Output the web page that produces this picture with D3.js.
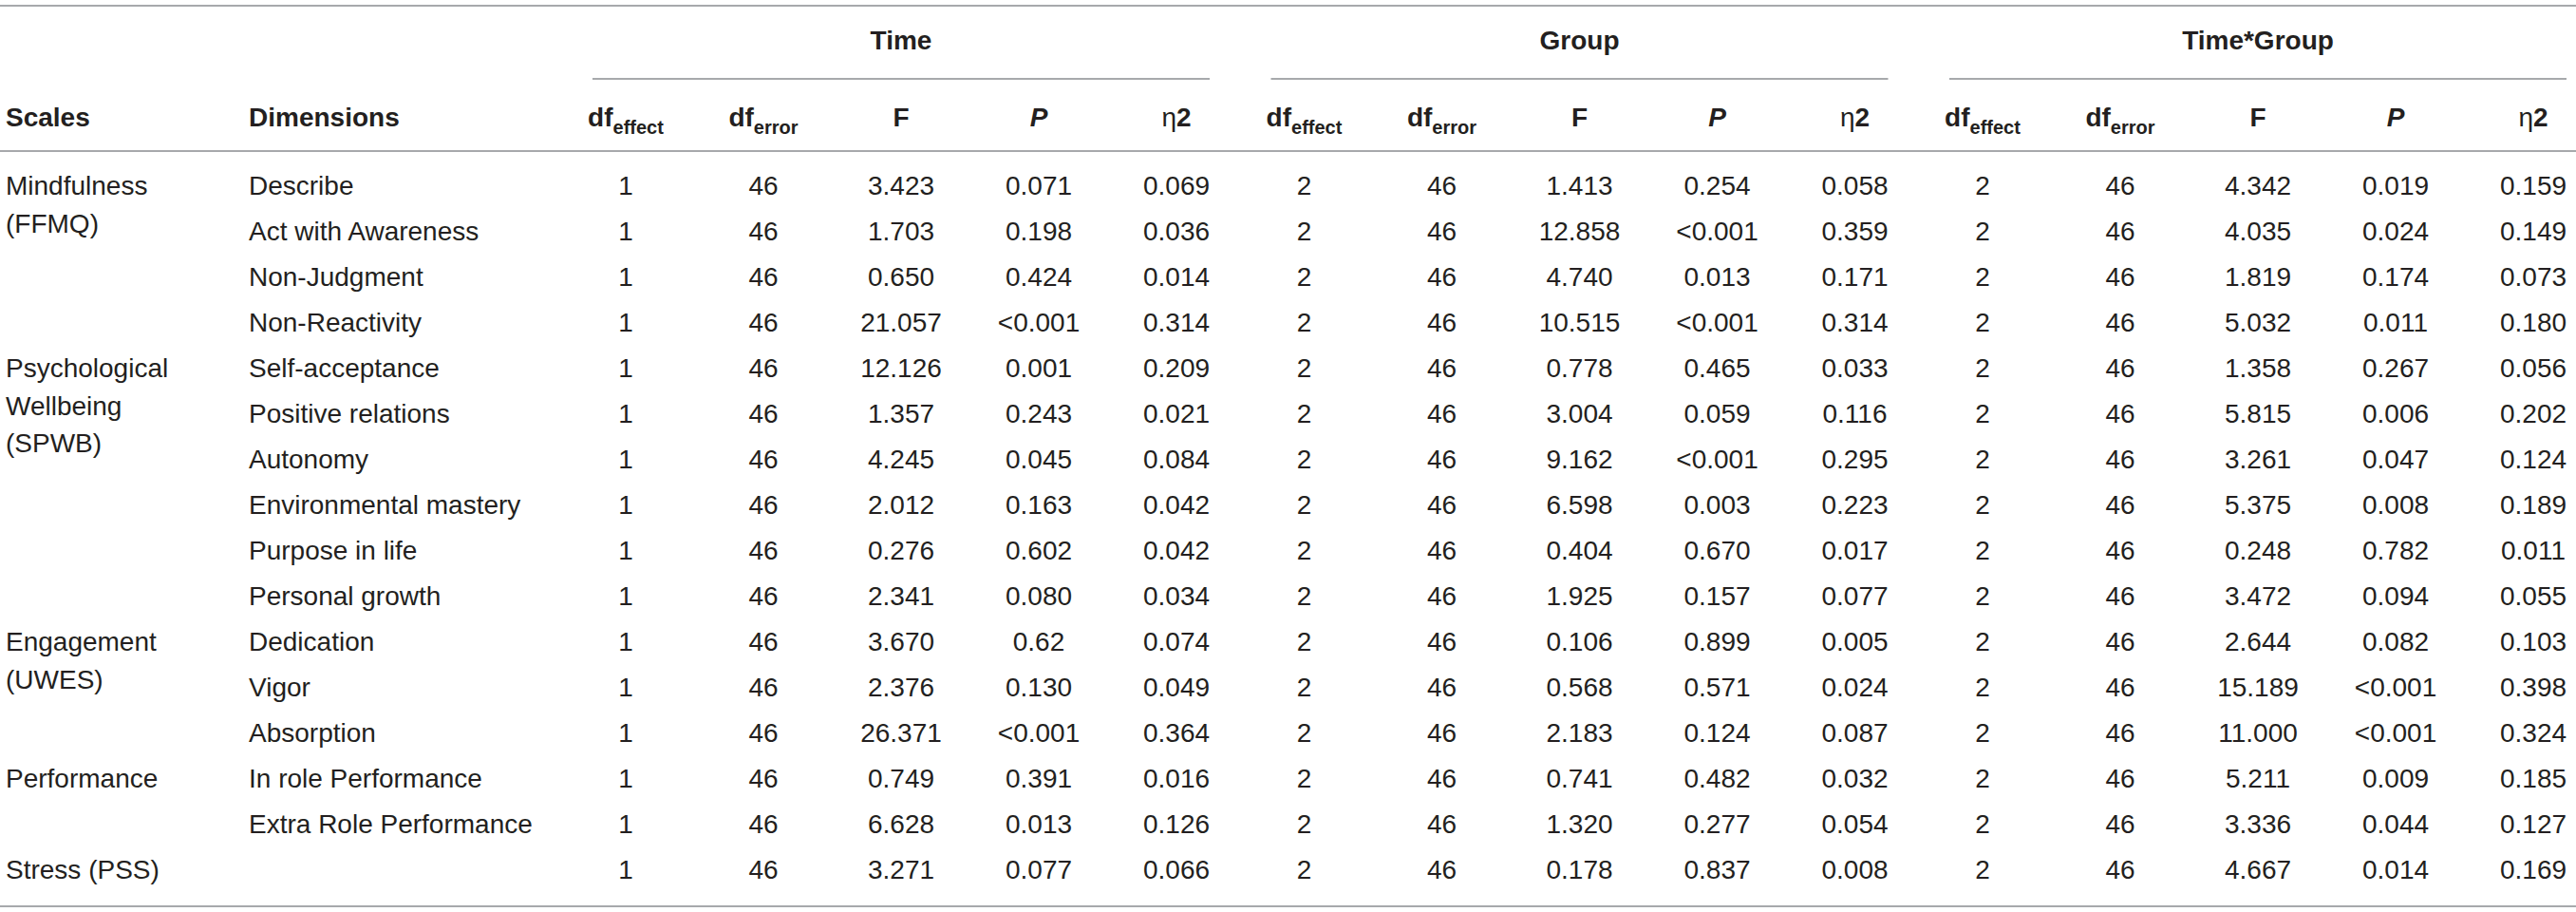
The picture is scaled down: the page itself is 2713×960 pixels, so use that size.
<!DOCTYPE html>
<html>
<head>
<meta charset="utf-8">
<script src="https://cdn.jsdelivr.net/npm/d3@7"></script>
<style>
  body { margin: 0; background: #fff; }
  text { font-family: "Liberation Sans", Arial, Helvetica, sans-serif; fill: #231f20; }
</style>
</head>
<body>
<script>
// table content
var scaleNames = [
    { row: 0, lines: ["Mindfulness", "(FFMQ)"] },
    { row: 4, lines: ["Psychological", "Wellbeing", "(SPWB)"] },
    { row: 10, lines: ["Engagement", "(UWES)"] },
    { row: 13, lines: ["Performance"] },
    { row: 15, lines: ["Stress (PSS)"] }
];
var dimensions = ["Describe", "Act with Awareness", "Non-Judgment", "Non-Reactivity",
    "Self-acceptance", "Positive relations", "Autonomy", "Environmental mastery",
    "Purpose in life", "Personal growth", "Dedication", "Vigor", "Absorption",
    "In role Performance", "Extra Role Performance", ""];
var effects = ["Time", "Group", "Time*Group"];
var columns = ["dfEffect", "dfError", "F", "P", "eta"];

var timeDfEffect = ["1", "1", "1", "1", "1", "1", "1", "1", "1", "1", "1", "1", "1", "1", "1", "1"];
var timeDfError = ["46", "46", "46", "46", "46", "46", "46", "46", "46", "46", "46", "46", "46", "46", "46", "46"];
var timeF = ["3.423", "1.703", "0.650", "21.057", "12.126", "1.357", "4.245", "2.012", "0.276", "2.341", "3.670", "2.376", "26.371", "0.749", "6.628", "3.271"];
var timeP = ["0.071", "0.198", "0.424", "<0.001", "0.001", "0.243", "0.045", "0.163", "0.602", "0.080", "0.62", "0.130", "<0.001", "0.391", "0.013", "0.077"];
var timeEta = ["0.069", "0.036", "0.014", "0.314", "0.209", "0.021", "0.084", "0.042", "0.042", "0.034", "0.074", "0.049", "0.364", "0.016", "0.126", "0.066"];

var groupDfEffect = ["2", "2", "2", "2", "2", "2", "2", "2", "2", "2", "2", "2", "2", "2", "2", "2"];
var groupDfError = ["46", "46", "46", "46", "46", "46", "46", "46", "46", "46", "46", "46", "46", "46", "46", "46"];
var groupF = ["1.413", "12.858", "4.740", "10.515", "0.778", "3.004", "9.162", "6.598", "0.404", "1.925", "0.106", "0.568", "2.183", "0.741", "1.320", "0.178"];
var groupP = ["0.254", "<0.001", "0.013", "<0.001", "0.465", "0.059", "<0.001", "0.003", "0.670", "0.157", "0.899", "0.571", "0.124", "0.482", "0.277", "0.837"];
var groupEta = ["0.058", "0.359", "0.171", "0.314", "0.033", "0.116", "0.295", "0.223", "0.017", "0.077", "0.005", "0.024", "0.087", "0.032", "0.054", "0.008"];

var tgDfEffect = ["2", "2", "2", "2", "2", "2", "2", "2", "2", "2", "2", "2", "2", "2", "2", "2"];
var tgDfError = ["46", "46", "46", "46", "46", "46", "46", "46", "46", "46", "46", "46", "46", "46", "46", "46"];
var tgF = ["4.342", "4.035", "1.819", "5.032", "1.358", "5.815", "3.261", "5.375", "0.248", "3.472", "2.644", "15.189", "11.000", "5.211", "3.336", "4.667"];
var tgP = ["0.019", "0.024", "0.174", "0.011", "0.267", "0.006", "0.047", "0.008", "0.782", "0.094", "0.082", "<0.001", "<0.001", "0.009", "0.044", "0.014"];
var tgEta = ["0.159", "0.149", "0.073", "0.180", "0.056", "0.202", "0.124", "0.189", "0.011", "0.055", "0.103", "0.398", "0.324", "0.185", "0.127", "0.169"];

var effectValues = {
    "Time": [timeDfEffect, timeDfError, timeF, timeP, timeEta],
    "Group": [groupDfEffect, groupDfError, groupF, groupP, groupEta],
    "Time*Group": [tgDfEffect, tgDfError, tgF, tgP, tgEta]
};

var width = 2713, height = 960;
var fontSize = 28;
var lineColor = "#a7a9ac";

var svg = d3.select("body").append("svg")
    .attr("width", width)
    .attr("height", height);

var y = d3.scalePoint().domain(d3.range(dimensions.length)).range([195, 915]);
var groupX = d3.scalePoint().domain(effects).range([949, 2378]);
var colX = d3.scalePoint().domain(columns).range([-290, 290]);

// horizontal rules
function rule(x1, x2, yy) {
    svg.append("line")
        .attr("x1", x1).attr("x2", x2)
        .attr("y1", yy).attr("y2", yy)
        .attr("stroke", lineColor)
        .attr("stroke-width", 2);
}
rule(0, width, 6);
rule(0, width, 159);
rule(0, width, 954);
effects.forEach(function (e) {
    rule(groupX(e) - 325, groupX(e) + 325, 83);
});

// header
var header = svg.append("g").attr("font-weight", "bold").attr("font-size", fontSize);
header.append("text").attr("x", 6).attr("y", 133).text("Scales");
header.append("text").attr("x", 262).attr("y", 133).text("Dimensions");

header.selectAll(".effect")
    .data(effects)
    .enter()
    .append("text")
    .attr("class", "effect")
    .attr("x", function (d) { return groupX(d); })
    .attr("y", 52)
    .attr("text-anchor", "middle")
    .text(function (d) { return d; });

effects.forEach(function (e) {
    columns.forEach(function (c) {
        var t = header.append("text")
            .attr("x", groupX(e) + colX(c))
            .attr("y", 133)
            .attr("text-anchor", "middle");
        if (c === "dfEffect" || c === "dfError") {
            t.append("tspan").text("df");
            t.append("tspan").attr("font-size", 20).attr("dy", 8)
                .text(c === "dfEffect" ? "effect" : "error");
        } else if (c === "P") {
            t.attr("font-style", "italic").text("P");
        } else if (c === "eta") {
            t.append("tspan").attr("font-weight", "normal").text("\u03b7");
            t.append("tspan").text("2");
        } else {
            t.text(c);
        }
    });
});

// body
var body = svg.append("g").attr("font-size", fontSize);

scaleNames.forEach(function (s) {
    var t = body.append("text").attr("x", 6).attr("y", y(s.row) + 10);
    s.lines.forEach(function (l, i) {
        t.append("tspan").attr("x", 6).attr("dy", i === 0 ? 0 : 39.5).text(l);
    });
});

body.selectAll(".dim")
    .data(dimensions)
    .enter()
    .append("text")
    .attr("class", "dim")
    .attr("x", 262)
    .attr("y", function (d, i) { return y(i) + 10; })
    .text(function (d) { return d; });

effects.forEach(function (e) {
    columns.forEach(function (c, ci) {
        body.selectAll(null)
            .data(effectValues[e][ci])
            .enter()
            .append("text")
            .attr("x", groupX(e) + colX(c))
            .attr("y", function (d, i) { return y(i) + 10; })
            .attr("text-anchor", "middle")
            .text(function (d) { return d; });
    });
});
</script>
</body>
</html>
